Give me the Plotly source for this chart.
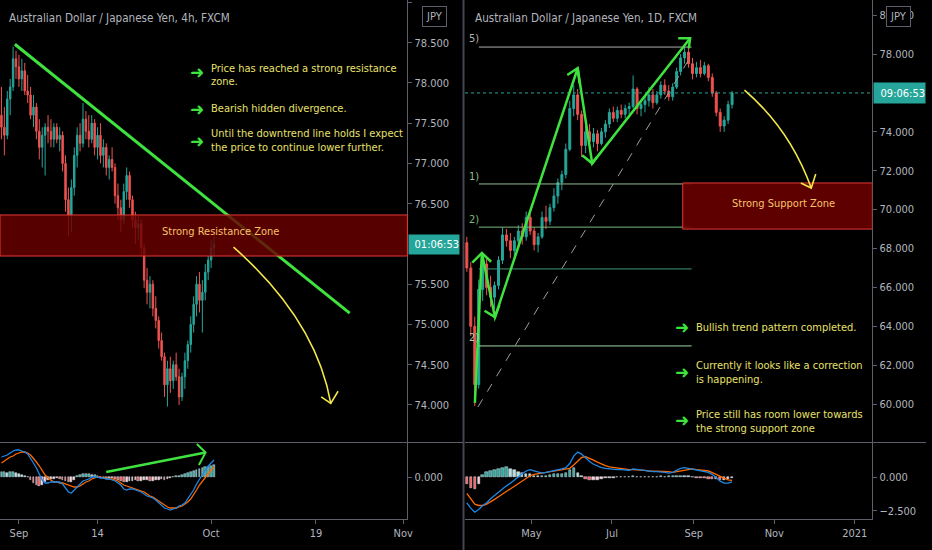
import plotly.graph_objects as go
import pandas as pd

FONT = "Liberation Sans Narrow, DejaVu Sans Condensed, Arial Narrow, sans-serif"
AXIS_TXT = "#B2B5BE"
AXIS_LINE = "#5D606B"
UP = "#26A69A"
DOWN = "#EF5350"
GREEN = "#3FE23F"
YELLOW = "#F2E84A"
NOTE = "#E9E26B"
ZONE_TXT = "#F6C36B"

# ---------------- left panel: AUDJPY 4h (one candle per 8h, weekends skipped) -----------
l_open = [77.60, 77.45, 77.35, 77.80, 77.95, 78.30, 78.20, 78.05, 78.15, 77.90,
          77.85, 77.60, 77.70, 77.40, 77.20, 77.35, 77.45, 77.40, 77.30, 77.45,
          77.30, 77.35, 77.00, 76.55, 76.35, 76.70, 77.10, 77.35, 77.25, 77.55,
          77.40, 77.30, 77.50, 77.20, 77.35, 77.10, 77.20, 76.95, 77.05, 76.95,
          76.60, 76.45, 76.30, 76.65, 76.85, 76.55, 76.30, 76.20, 76.25, 75.95,
          75.55, 75.40, 75.50, 75.20, 75.05, 74.80, 74.60, 74.25, 74.45, 74.30,
          74.50, 74.35, 74.10, 74.35, 74.55, 74.75, 75.00, 75.25, 75.50, 75.30,
          75.40, 75.65, 75.80, 75.95]
l_high = [77.95, 77.70, 77.90, 78.05, 78.45, 78.40, 78.35, 78.30, 78.25, 78.10,
          77.95, 77.85, 77.75, 77.55, 77.45, 77.50, 77.60, 77.55, 77.50, 77.50,
          77.45, 77.40, 77.10, 76.70, 76.80, 77.20, 77.45, 77.50, 77.75, 77.65,
          77.60, 77.60, 77.55, 77.45, 77.50, 77.30, 77.25, 77.10, 77.20, 77.00,
          76.75, 76.55, 76.75, 76.95, 76.90, 76.60, 76.40, 76.35, 76.30, 76.00,
          75.70, 75.60, 75.55, 75.35, 75.10, 74.90, 74.65, 74.55, 74.60, 74.55,
          74.65, 74.45, 74.40, 74.65, 74.80, 75.10, 75.35, 75.60, 75.65, 75.55,
          75.75, 75.85, 76.05, 76.10]
l_low = [77.30, 77.10, 77.30, 77.60, 77.90, 78.05, 77.95, 77.90, 77.85, 77.75,
         77.55, 77.45, 77.30, 77.05, 76.95, 76.85, 77.25, 77.20, 77.20, 77.25,
         77.15, 76.90, 76.40, 76.10, 76.15, 76.60, 76.95, 77.15, 77.20, 77.30,
         77.20, 77.25, 77.10, 77.05, 77.00, 76.95, 76.85, 76.80, 76.90, 76.50,
         76.30, 76.15, 76.25, 76.55, 76.45, 76.20, 76.00, 76.05, 75.85, 75.45,
         75.25, 75.20, 75.10, 74.95, 74.70, 74.55, 74.10, 73.98, 74.15, 74.20,
         74.30, 74.00, 74.05, 74.20, 74.45, 74.65, 74.90, 75.10, 75.15, 74.90,
         75.30, 75.55, 75.70, 75.85]
l_close = [77.45, 77.35, 77.80, 77.95, 78.30, 78.20, 78.05, 78.15, 77.90, 77.85,
           77.60, 77.70, 77.40, 77.20, 77.35, 77.45, 77.40, 77.30, 77.45, 77.30,
           77.35, 77.00, 76.55, 76.35, 76.70, 77.10, 77.35, 77.25, 77.55, 77.40,
           77.30, 77.50, 77.20, 77.35, 77.10, 77.20, 76.95, 77.05, 76.95, 76.60,
           76.45, 76.30, 76.65, 76.85, 76.55, 76.30, 76.20, 76.25, 75.95, 75.55,
           75.40, 75.50, 75.20, 75.05, 74.80, 74.60, 74.25, 74.45, 74.30, 74.50,
           74.35, 74.10, 74.35, 74.55, 74.75, 75.00, 75.25, 75.50, 75.30, 75.40,
           75.65, 75.80, 75.95, 76.00]
l_macd = [0.20, 0.21, 0.22, 0.24, 0.26, 0.27, 0.27, 0.26, 0.25, 0.23,
          0.19, 0.14, 0.09, 0.03, -0.03, -0.06, -0.06, -0.05, -0.05, -0.05,
          -0.05, -0.07, -0.11, -0.15, -0.16, -0.13, -0.09, -0.06, -0.04, -0.03,
          -0.02, 0.00, 0.00, 0.00, -0.01, -0.01, -0.02, -0.02, -0.03, -0.04,
          -0.06, -0.08, -0.12, -0.13, -0.12, -0.12, -0.13, -0.14, -0.15, -0.17,
          -0.19, -0.20, -0.21, -0.23, -0.26, -0.28, -0.31, -0.32, -0.33, -0.32,
          -0.31, -0.29, -0.28, -0.26, -0.22, -0.18, -0.13, -0.07, -0.02, 0.03,
          0.07, 0.11, 0.14, 0.17]
l_signal = [0.14, 0.16, 0.18, 0.20, 0.21, 0.23, 0.24, 0.25, 0.25, 0.24,
            0.22, 0.19, 0.15, 0.11, 0.06, 0.02, -0.01, -0.03, -0.05, -0.05,
            -0.06, -0.06, -0.07, -0.08, -0.09, -0.10, -0.10, -0.09, -0.07, -0.05,
            -0.04, -0.02, -0.01, 0.00, 0.00, -0.01, -0.01, -0.02, -0.02, -0.03,
            -0.04, -0.06, -0.08, -0.09, -0.10, -0.11, -0.12, -0.13, -0.14, -0.15,
            -0.17, -0.19, -0.20, -0.22, -0.24, -0.26, -0.28, -0.30, -0.31, -0.31,
            -0.31, -0.30, -0.29, -0.27, -0.25, -0.22, -0.18, -0.13, -0.08, -0.04,
            0.00, 0.04, 0.07, 0.10]
l_hist = [0.05, 0.05, 0.04, 0.05, 0.05, 0.04, 0.03, 0.02, 0.01, 0.00,
          -0.03, -0.06, -0.08, -0.09, -0.08, -0.05, -0.03, -0.02, -0.02, -0.01,
          -0.02, -0.03, -0.04, -0.05, -0.05, -0.03, 0.01, 0.02, 0.03, 0.03,
          0.03, 0.02, 0.02, 0.01, -0.01, -0.01, -0.02, -0.01, -0.01, -0.02,
          -0.03, -0.04, -0.05, -0.05, -0.04, -0.04, -0.03, -0.04, -0.04, -0.03,
          -0.03, -0.04, -0.04, -0.03, -0.03, -0.02, -0.03, -0.02, -0.01, 0.00,
          0.01, 0.01, 0.02, 0.03, 0.04, 0.05, 0.06, 0.07, 0.08, 0.09,
          0.10, 0.10, 0.11, 0.12]
l_bar = list(range(len(l_close)))          # 8h bar number from Aug 28
l_tick_pos = [6, 33, 72, 108, 138]
l_tick_txt = ["Sep", "14", "Oct", "19", "Nov"]

# ---------------- right panel: AUDJPY 1D (one candle per 3 days) ----------------
r_start = pd.Timestamp("2020-03-13")
r_open = [68.3, 67.0, 64.0, 61.0, 65.9, 67.2, 66.0, 65.5, 66.1, 67.4,
          68.7, 68.4, 67.9, 68.4, 68.9, 68.6, 69.6, 68.9, 68.2, 68.6,
          69.6, 69.4, 70.1, 70.7, 71.4, 71.8, 73.1, 75.2, 75.9, 74.9,
          73.3, 74.0, 73.5, 73.9, 73.4, 74.0, 74.4, 75.0, 74.7, 75.1,
          74.9, 75.2, 75.3, 76.2, 75.2, 75.4, 75.6, 75.9, 75.5, 75.9,
          76.4, 76.1, 75.8, 76.3, 77.1, 77.8, 78.1, 77.5, 77.0, 77.3,
          77.0, 77.4, 76.8, 76.0, 75.0, 74.3, 74.6, 75.4]
r_high = [68.6, 67.3, 64.5, 66.4, 67.8, 67.5, 66.6, 66.3, 67.6, 69.1,
          69.0, 68.8, 68.6, 69.2, 69.3, 69.9, 69.8, 69.1, 68.8, 69.9,
          70.2, 70.3, 71.1, 71.6, 72.0, 73.4, 75.6, 76.4, 76.2, 75.1,
          74.3, 74.4, 74.2, 74.1, 74.2, 74.6, 75.2, 75.3, 75.3, 75.4,
          75.4, 75.5, 76.9, 76.3, 75.6, 75.8, 76.3, 76.2, 76.1, 76.6,
          76.7, 76.4, 76.5, 77.3, 78.0, 78.36, 78.3, 77.8, 77.6, 77.7,
          77.6, 77.5, 77.0, 76.1, 75.2, 74.8, 75.6, 76.1]
r_low = [66.8, 63.5, 59.9, 60.8, 65.3, 65.6, 65.0, 64.9, 65.9, 67.2,
         68.1, 67.5, 67.4, 68.1, 68.2, 68.4, 68.7, 67.9, 67.8, 68.5,
         69.0, 69.2, 69.9, 70.3, 71.0, 71.6, 73.0, 74.8, 74.6, 72.7,
         72.9, 73.2, 73.2, 73.0, 73.3, 73.7, 74.2, 74.5, 74.5, 74.7,
         74.7, 74.9, 75.2, 74.9, 74.8, 75.0, 75.3, 75.2, 75.4, 75.7,
         75.9, 75.6, 75.6, 76.2, 76.9, 77.5, 77.3, 76.7, 76.8, 76.8,
         76.9, 76.6, 75.8, 74.8, 74.0, 74.0, 74.4, 75.2]
r_close = [67.0, 64.0, 61.0, 65.9, 67.2, 66.0, 65.5, 66.1, 67.4, 68.7,
           68.4, 67.9, 68.4, 68.9, 68.6, 69.6, 68.9, 68.2, 68.6, 69.6,
           69.4, 70.1, 70.7, 71.4, 71.8, 73.1, 75.2, 75.9, 74.9, 73.3,
           74.0, 73.5, 73.9, 73.4, 74.0, 74.4, 75.0, 74.7, 75.1, 74.9,
           75.2, 75.3, 76.2, 75.2, 75.4, 75.6, 75.9, 75.5, 75.9, 76.4,
           76.1, 75.8, 76.3, 77.1, 77.8, 78.1, 77.5, 77.0, 77.3, 77.0,
           77.4, 76.8, 76.0, 75.0, 74.3, 74.6, 75.4, 76.0]
r_macd = [-1.9, -2.3, -2.6, -2.4, -2.1, -1.9, -1.6, -1.35, -1.1, -0.85,
          -0.65, -0.45, -0.2, 0.0, 0.25, 0.45, 0.55, 0.45, 0.35, 0.3,
          0.35, 0.4, 0.45, 0.55, 0.6, 0.7, 1.0, 1.55, 1.85, 1.7,
          1.4, 1.15, 0.95, 0.8, 0.7, 0.65, 0.6, 0.6, 0.55, 0.55,
          0.55, 0.5, 0.6, 0.55, 0.5, 0.45, 0.45, 0.4, 0.4, 0.4,
          0.35, 0.3, 0.35, 0.5, 0.65, 0.7, 0.65, 0.6, 0.55, 0.5,
          0.45, 0.35, 0.2, -0.05, -0.3, -0.45, -0.45, -0.35]
r_signal = [-1.2, -1.6, -2.0, -2.1, -2.1, -2.0, -1.85, -1.65, -1.45, -1.25,
            -1.05, -0.85, -0.65, -0.45, -0.25, -0.05, 0.1, 0.2, 0.25, 0.3,
            0.35, 0.4, 0.45, 0.5, 0.5, 0.55, 0.65, 0.9, 1.2, 1.45,
            1.5, 1.4, 1.25, 1.1, 0.95, 0.85, 0.75, 0.7, 0.65, 0.6,
            0.6, 0.55, 0.55, 0.55, 0.5, 0.5, 0.45, 0.45, 0.45, 0.4,
            0.4, 0.4, 0.35, 0.4, 0.45, 0.55, 0.6, 0.6, 0.55, 0.55,
            0.5, 0.45, 0.35, 0.2, 0.05, -0.1, -0.2, -0.25]
r_hist = [-0.5, -0.8, -0.9, -0.5, 0.15, 0.4, 0.45, 0.5, 0.6, 0.7,
          0.72, 0.6, 0.5, 0.4, 0.3, 0.25, 0.2, 0.1, 0.05, 0.05,
          0.1, 0.15, 0.2, 0.2, 0.25, 0.3, 0.55, 0.65, 0.3, 0.05,
          -0.15, -0.25, -0.25, -0.2, -0.15, -0.1, -0.05, -0.05, -0.03, -0.02,
          0.02, 0.03, 0.05, 0.02, 0.0, -0.02, 0.03, 0.02, 0.04, 0.05,
          0.03, 0.05, 0.08, 0.1, 0.1, 0.08, 0.05, -0.03, -0.05, -0.08,
          -0.1, -0.12, -0.15, -0.12, -0.2, -0.2, -0.15, -0.1]
r_dates = pd.date_range(r_start, periods=len(r_close), freq="3D")
r_day = [(d - r_start).days for d in r_dates]
r_tick_dates = ["2020-05-01", "2020-07-01", "2020-09-01", "2020-11-01", "2021-01-01"]
r_tick_pos = [(pd.Timestamp(d) - r_start).days for d in r_tick_dates]
r_tick_txt = ["May", "Jul", "Sep", "Nov", "2021"]

# price scale labels (the level under the countdown box is covered in the chart)
l_yticks = [74.0, 74.5, 75.0, 75.5, 76.5, 77.0, 77.5, 78.0, 78.5, 79.0]
r_yticks = [60, 62, 64, 66, 68, 70, 72, 74, 78, 80]


def hist_colors(vals):
    out, prev = [], 0
    for v in vals:
        if v >= 0:
            out.append(UP if v >= prev else "#B2DFDB")
        else:
            out.append("#FF5252" if v < prev else "#FFCDD2")
        prev = v
    return out


fig = go.Figure()
candle_style = dict(increasing=dict(line=dict(color=UP, width=1), fillcolor=UP),
                    decreasing=dict(line=dict(color=DOWN, width=1), fillcolor=DOWN),
                    showlegend=False, hoverinfo="skip")
fig.add_trace(go.Candlestick(x=l_bar, open=l_open, high=l_high, low=l_low, close=l_close,
                             xaxis="x", yaxis="y", **candle_style))
fig.add_trace(go.Bar(x=l_bar, y=l_hist, marker_color=hist_colors(l_hist), width=0.6,
                     xaxis="x2", yaxis="y2", showlegend=False))
fig.add_trace(go.Scatter(x=l_bar, y=l_signal, mode="lines", line=dict(color="#FF6A00", width=1.3),
                         xaxis="x2", yaxis="y2", showlegend=False))
fig.add_trace(go.Scatter(x=l_bar, y=l_macd, mode="lines", line=dict(color="#1E88E5", width=1.3),
                         xaxis="x2", yaxis="y2", showlegend=False))

fig.add_trace(go.Candlestick(x=r_day, open=r_open, high=r_high, low=r_low, close=r_close,
                             xaxis="x3", yaxis="y3", **candle_style))
fig.add_trace(go.Bar(x=r_day, y=r_hist, marker_color=hist_colors(r_hist), width=1.8,
                     xaxis="x4", yaxis="y4", showlegend=False))
fig.add_trace(go.Scatter(x=r_day, y=r_signal, mode="lines", line=dict(color="#FF6A00", width=1.3),
                         xaxis="x4", yaxis="y4", showlegend=False))
fig.add_trace(go.Scatter(x=r_day, y=r_macd, mode="lines", line=dict(color="#1E88E5", width=1.3),
                         xaxis="x4", yaxis="y4", showlegend=False))

W, H = 932, 550
price_dom = [108 / H, 1]
macd_dom = [31 / H, 107 / H]
left_dom = [0, 410 / W]
right_dom = [468 / W, 878 / W]

tickfont = dict(family=FONT, size=11, color=AXIS_TXT)
yax = dict(side="right", showgrid=False, zeroline=False, showline=True, linecolor=AXIS_LINE,
           ticks="outside", ticklen=4, tickcolor=AXIS_LINE, tickfont=tickfont, fixedrange=True)
xax = dict(showgrid=False, zeroline=False, fixedrange=True, rangeslider=dict(visible=False))

fig.update_layout(
    width=W, height=H, margin=dict(l=0, r=0, t=0, b=0),
    paper_bgcolor="#000000", plot_bgcolor="#000000", showlegend=False, bargap=0,
    xaxis=dict(domain=left_dom, range=[-0.5, 139.4], anchor="y", showticklabels=False, **xax),
    yaxis=dict(domain=price_dom, range=[73.54, 79.03], anchor="x",
               tickvals=l_yticks, ticktext=[f"{v:.3f}" for v in l_yticks], **yax),
    xaxis2=dict(domain=left_dom, range=[-0.5, 139.4], anchor="y2", showline=True, linecolor=AXIS_LINE,
                ticks="outside", ticklen=4, tickcolor=AXIS_LINE, tickfont=tickfont,
                tickvals=l_tick_pos, ticktext=l_tick_txt, **xax),
    yaxis2=dict(domain=macd_dom, range=[-0.42, 0.34], anchor="x2", tickvals=[0], ticktext=["0.000"], **yax),
    xaxis3=dict(domain=right_dom, range=[-1.4, 307.3], anchor="y3", showticklabels=False, **xax),
    yaxis3=dict(domain=price_dom, range=[58.05, 80.78], anchor="x3",
                tickvals=r_yticks, ticktext=[f"{v:.3f}" for v in r_yticks], **yax),
    xaxis4=dict(domain=right_dom, range=[-1.4, 307.3], anchor="y4", showline=True, linecolor=AXIS_LINE,
                ticks="outside", ticklen=4, tickcolor=AXIS_LINE, tickfont=tickfont,
                tickvals=r_tick_pos, ticktext=r_tick_txt, **xax),
    yaxis4=dict(domain=macd_dom, range=[-3.1, 2.52], anchor="x4", tickvals=[0, -2.5],
                ticktext=["0.000", "\u22122.500"], **yax),
)

shapes = []
# pane separators
shapes.append(dict(type="line", xref="paper", yref="paper", x0=466.5 / W, x1=466.5 / W, y0=0, y1=1,
                   line=dict(color="#434651", width=2)))
for x0, x1 in [(0, 466 / W), (468 / W, 1)]:
    shapes.append(dict(type="line", xref="paper", yref="paper", x0=x0, x1=x1,
                       y0=107.5 / H, y1=107.5 / H, line=dict(color=AXIS_LINE, width=1)))

# left drawings
shapes.append(dict(type="line", xref="x", yref="y", x0=4.6, y0=78.48, x1=119.6, y1=75.14,
                   line=dict(color=GREEN, width=3)))
shapes.append(dict(type="rect", xref="x domain", yref="y", x0=0, x1=1, y0=75.85, y1=76.36,
                   fillcolor="rgba(105,0,0,0.82)", line=dict(color="#E53935", width=1)))
shapes.append(dict(type="path", xref="x", yref="y", path="M 79.7,75.96 Q 108.0,75.055 113.1,74.02",
                   line=dict(color=YELLOW, width=1.6)))
shapes.append(dict(type="path", xref="x", yref="y", path="M 109.8,74.10 L 113.1,74.02 L 115.6,74.17",
                   line=dict(color=YELLOW, width=1.6)))
shapes.append(dict(type="line", xref="x2", yref="y2", x0=36.0, y0=0.05, x1=70.1, y1=0.245,
                   line=dict(color=GREEN, width=2.5)))
shapes.append(dict(type="path", xref="x2", yref="y2", path="M 67.1,0.33 L 70.1,0.245 L 67.8,0.12",
                   line=dict(color=GREEN, width=2)))

# right drawings
fib_levels = [78.36, 71.32, 69.1, 66.95, 62.99]
fib_colors = ["#B0B0B0", "#8FBC8F", "#7CB87C", "#3E9A7A", "#A5D6A7"]
for lvl, col in zip(fib_levels, fib_colors):
    shapes.append(dict(type="line", xref="x3", yref="y3", x0=9.1, x1=170.3, y0=lvl, y1=lvl,
                       line=dict(color=col, width=1)))
shapes.append(dict(type="line", xref="x3", yref="y3", x0=8.4, y0=59.85, x1=170.3, y1=77.95,
                   line=dict(color="#9E9E9E", width=1, dash="dash")))
shapes.append(dict(type="line", xref="x3 domain", yref="y3", x0=0, x1=1, y0=76.0, y1=76.0,
                   line=dict(color=UP, width=1, dash="dot")))
shapes.append(dict(type="path", xref="x3", yref="y3",
                   path="M 6.1,60.06 L 11.4,67.77 L 21.3,64.47 L 84.0,77.27 L 95.0,72.38 L 169.2,78.81",
                   line=dict(color=GREEN, width=2.5)))
for p in ["M 4.1,67.27 L 11.4,67.77 L 18.4,67.32",
          "M 13.4,64.8 L 21.3,64.47 L 24.7,65.1",
          "M 76.1,76.92 L 84.0,77.27 L 85.4,76.49",
          "M 87.4,72.8 L 95.0,72.38 L 98.7,72.72",
          "M 160.2,78.81 L 169.2,78.81 L 168.2,78.29"]:
    shapes.append(dict(type="path", xref="x3", yref="y3", path=p, line=dict(color=GREEN, width=2.5)))
shapes.append(dict(type="rect", xref="x3", yref="y3", x0=163.6, x1=307.3, y0=69.0, y1=71.37,
                   fillcolor="rgba(105,0,0,0.9)", line=dict(color="#E53935", width=1)))
shapes.append(dict(type="path", xref="x3", yref="y3", path="M 210.4,76.15 Q 245.2,74.11 261.0,71.11",
                   line=dict(color=YELLOW, width=1.6)))
shapes.append(dict(type="path", xref="x3", yref="y3", path="M 253.1,71.37 L 261.0,71.11 L 264.4,71.83",
                   line=dict(color=YELLOW, width=1.6)))
fig.update_layout(shapes=shapes)

ann = []
title_font = dict(family=FONT, size=11.6, color=AXIS_TXT)
ann.append(dict(xref="paper", yref="paper", x=7 / W, y=1 - 18 / H, xanchor="left", yanchor="middle",
                text="Australian Dollar / Japanese Yen, 4h, FXCM", showarrow=False, font=title_font))
ann.append(dict(xref="paper", yref="paper", x=476 / W, y=1 - 18 / H, xanchor="left", yanchor="middle",
                text="Australian Dollar / Japanese Yen, 1D, FXCM", showarrow=False, font=title_font))
for px in [437, 904.5]:
    ann.append(dict(xref="paper", yref="paper", x=px / W, y=1 - 17 / H, xanchor="center", yanchor="middle",
                    text="JPY", showarrow=False, bgcolor="#000000", bordercolor=AXIS_LINE, borderwidth=1,
                    borderpad=3, font=dict(family=FONT, size=11, color=AXIS_TXT)))
ann.append(dict(xref="paper", yref="y", x=411 / W, y=75.99, xanchor="left", yanchor="middle",
                text="01:06:53", showarrow=False, bgcolor=UP, width=50, height=19, borderpad=0,
                align="right", font=dict(family=FONT, size=11, color="#FFFFFF")))
ann.append(dict(xref="paper", yref="y3", x=879 / W, y=76.0, xanchor="left", yanchor="middle",
                text="09:06:53", showarrow=False, bgcolor=UP, width=51, height=20, borderpad=0,
                align="right", font=dict(family=FONT, size=11, color="#FFFFFF")))

ann.append(dict(xref="x", yref="y", x=75.3, y=76.15, text="Strong Resistance Zone", showarrow=False,
                font=dict(family=FONT, size=11, color=ZONE_TXT)))
ann.append(dict(xref="x3", yref="y3", x=239.6, y=70.34, text="Strong Support Zone", showarrow=False,
                font=dict(family=FONT, size=11, color=ZONE_TXT)))

note_font = dict(family=FONT, size=11, color=NOTE)
arrow_font = dict(family="DejaVu Sans, sans-serif", size=17, color=GREEN)
left_notes = [("Price has reached a strong resistance", 78.177), ("zone.", 78.015),
              ("Bearish hidden divergence.", 77.679),
              ("Until the downtrend line holds I expect", 77.368),
              ("the price to continue lower further.", 77.194)]
for txt, yv in left_notes:
    ann.append(dict(xref="x", yref="y", x=71.2, y=yv, xanchor="left", yanchor="middle", text=txt,
                    showarrow=False, font=note_font))
for yv in [78.13, 77.67, 77.28]:
    ann.append(dict(xref="x", yref="y", x=67.1, y=yv, xanchor="center", yanchor="middle", text="\u279c",
                    showarrow=False, font=arrow_font))
right_notes = [("Bullish trend pattern completed.", 63.96),
               ("Currently it looks like a correction", 61.96), ("is happening.", 61.29),
               ("Price still has room lower towards", 59.49), ("the strong support zone", 58.77)]
for txt, yv in right_notes:
    ann.append(dict(xref="x3", yref="y3", x=172.5, y=yv, xanchor="left", yanchor="middle", text=txt,
                    showarrow=False, font=note_font))
for yv in [63.96, 61.65, 59.18]:
    ann.append(dict(xref="x3", yref="y3", x=162.9, y=yv, xanchor="center", yanchor="middle", text="\u279c",
                    showarrow=False, font=arrow_font))

fib_labels = [("5)", 78.82, "#B0B0B0"), ("1)", 71.68, "#8FBC8F"), ("2)", 69.47, "#7CB87C"),
              ("2)", 63.4, "#A5D6A7")]
for txt, yv, col in fib_labels:
    ann.append(dict(xref="x3", yref="y3", x=0.2, y=yv, xanchor="left", yanchor="middle", text=txt,
                    showarrow=False, font=dict(family=FONT, size=11, color=col)))
fig.update_layout(annotations=ann)

fig.write_html("out.html", config={"displayModeBar": False},
               post_script="document.body.style.margin='0px';")
